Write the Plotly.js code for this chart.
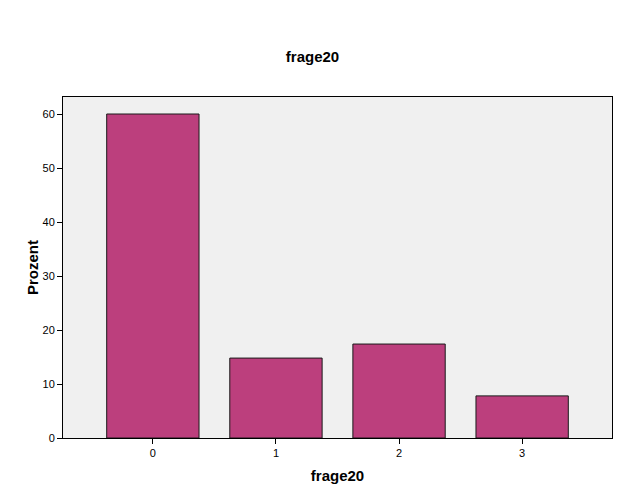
<!DOCTYPE html>
<html>
<head>
<meta charset="utf-8">
<script src="https://cdn.plot.ly/plotly-3.0.1.min.js"></script>
<style>html,body{margin:0;padding:0;background:#fff;}#chart{width:625px;height:500px;}</style>
</head>
<body>
<div id="chart"></div>
<script>
const categories = ["0", "1", "2", "3"];
const percent = [60.0, 14.8, 17.4, 7.8];
const yTicks = [0, 10, 20, 30, 40, 50, 60];

const trace = {
  type: "bar",
  x: categories,
  y: percent,
  width: 0.75,
  marker: {color: "#BC3F7D", line: {color: "#1a1a1a", width: 1}},
  hoverinfo: "x+y"
};

const layout = {
  width: 625, height: 500,
  margin: {l: 63, r: 13, t: 97, b: 62},
  paper_bgcolor: "#ffffff",
  plot_bgcolor: "#F0F0F0",
  font: {family: "Liberation Sans, Arial, sans-serif", color: "#000", size: 11},
  title: {text: "<b>frage20</b>", font: {size: 15, color: "#000"}, x: 0.5, xanchor: "center", y: 1 - 57/500, yanchor: "middle"},
  xaxis: {
    type: "category",
    range: [-0.73, 3.73],
    showgrid: false, zeroline: false,
    showline: true, linecolor: "#000", linewidth: 1, mirror: true,
    ticks: "outside", ticklen: 5, tickcolor: "#000",
    tickfont: {size: 11},
    title: {text: "<b>frage20</b>", font: {size: 15}, standoff: 12}
  },
  yaxis: {
    range: [0, 63.15],
    tickvals: yTicks,
    showgrid: false, zeroline: false,
    showline: true, linecolor: "#000", linewidth: 1, mirror: true,
    ticks: "outside", ticklen: 5, tickcolor: "#000",
    tickfont: {size: 11},
    title: {text: "<b>Prozent</b>", font: {size: 15}, standoff: 0}
  },
  showlegend: false,
  bargap: 0.25
};

Plotly.newPlot("chart", [trace], layout, {displayModeBar: false, staticPlot: true});
</script>
</body>
</html>
